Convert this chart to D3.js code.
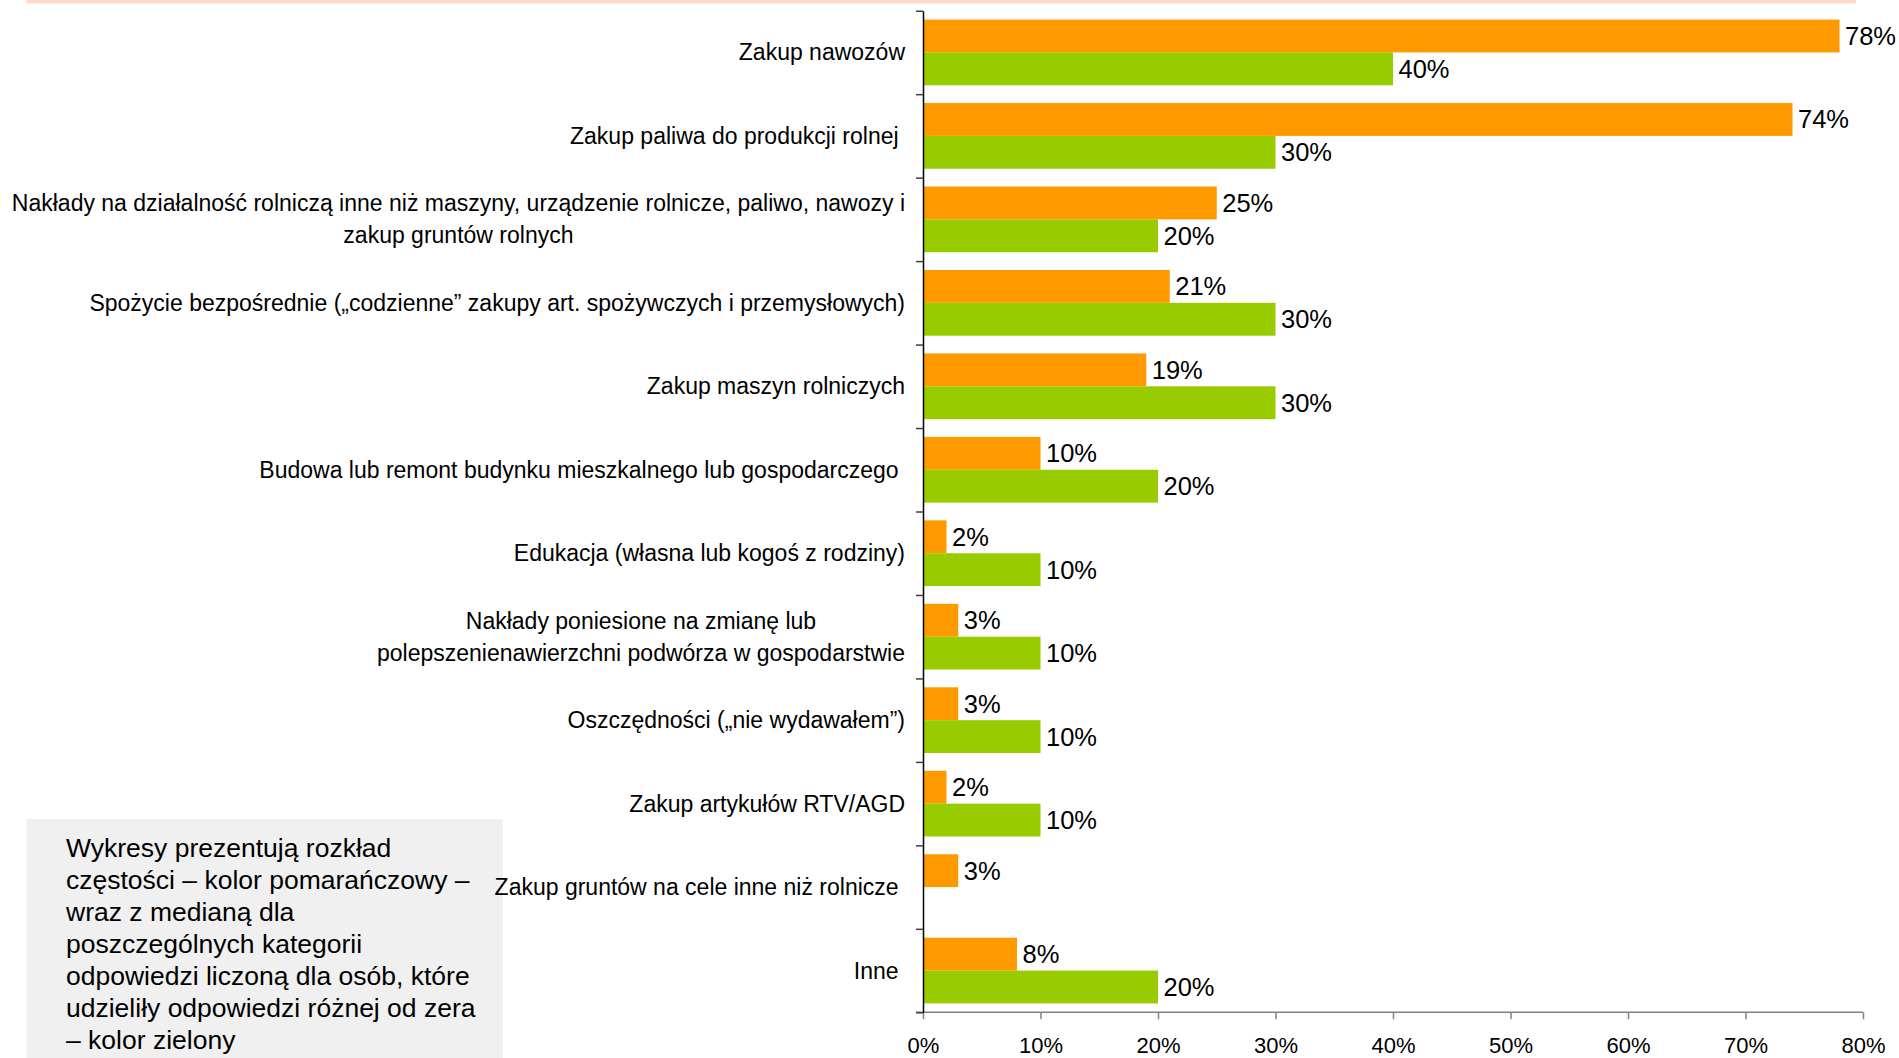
<!DOCTYPE html>
<html lang="pl">
<head>
<meta charset="utf-8">
<script src="https://cdn.jsdelivr.net/npm/d3@7"></script>
<style>
  html, body { margin: 0; padding: 0; background: #ffffff; }
  svg { display: block; font-family: "Liberation Sans", Arial, sans-serif; }
  text { white-space: pre; }
</style>
</head>
<body>
<script>
// Categories of spending (label lines separated by "\n")
const categories = [
  "Zakup nawozów",
  "Zakup paliwa do produkcji rolnej ",
  "Nakłady na działalność rolniczą inne niż maszyny, urządzenie rolnicze, paliwo, nawozy i\nzakup gruntów rolnych",
  "Spożycie bezpośrednie („codzienne” zakupy art. spożywczych i przemysłowych)",
  "Zakup maszyn rolniczych",
  "Budowa lub remont budynku mieszkalnego lub gospodarczego ",
  "Edukacja (własna lub kogoś z rodziny)",
  "Nakłady poniesione na zmianę lub\npolepszenienawierzchni podwórza w gospodarstwie",
  "Oszczędności („nie wydawałem”)",
  "Zakup artykułów RTV/AGD",
  "Zakup gruntów na cele inne niż rolnicze ",
  "Inne "
];

// Frequency of answers (orange), %
const frequency = [78, 74, 25, 21, 19, 10, 2, 3, 3, 2, 3, 8];

// Median for non-zero answers (green), %; null = no value
const median = [40, 30, 20, 30, 30, 20, 10, 10, 10, 10, null, 20];

// Horizontal axis ticks, %
const xTicks = [0, 10, 20, 30, 40, 50, 60, 70, 80];

// Explanatory note
const noteLines = [
  "Wykresy prezentują rozkład",
  "częstości – kolor pomarańczowy –",
  "wraz z medianą dla",
  "poszczególnych kategorii",
  "odpowiedzi liczoną dla osób, które",
  "udzieliły odpowiedzi różnej od zera",
  "– kolor zielony"
];

const W = 1899, H = 1058;
const COLORS = { freq: "#FF9900", med: "#99CC00" };

const svg = d3.select("body").append("svg")
  .attr("width", W).attr("height", H);

const plot = { left: 923, right: 1863, top: 10.7, bottom: 1012.3 };

const x = d3.scaleLinear().domain([0, 80]).range([plot.left, plot.right]);
const y = d3.scaleBand().domain(d3.range(categories.length)).range([plot.top, plot.bottom]);
const yEdges = d3.scaleLinear().domain([0, categories.length]).range([plot.top, plot.bottom]);
const inner = d3.scaleBand().domain(["freq", "med"])
  .range([0, y.bandwidth()]).paddingInner(0).paddingOuter(0.27);

// Thin header strip
svg.append("rect")
  .attr("x", 26.6).attr("y", 0).attr("width", 1856 - 26.6).attr("height", 3.5)
  .attr("fill", "#FFD9CC");

// Note box
const note = svg.append("g");
note.append("rect")
  .attr("x", 26.6).attr("y", 819).attr("width", 502.7 - 26.6).attr("height", H - 819)
  .attr("fill", "#F0F0F0");
note.selectAll("text").data(noteLines).join("text")
  .attr("x", 66)
  .attr("y", (d, i) => 847.5 + i * 32)
  .attr("dy", "0.35em")
  .attr("font-size", 26.5)
  .attr("fill", "#000")
  .text(d => d);

// Bars and value labels
const series = [
  { key: "freq", values: frequency },
  { key: "med", values: median }
];
series.forEach(s => {
  const data = s.values.map((v, i) => ({ i, v })).filter(d => d.v != null);
  svg.append("g").selectAll("rect").data(data).join("rect")
    .attr("x", x(0))
    .attr("y", d => y(d.i) + inner(s.key))
    .attr("width", d => x(d.v) - x(0))
    .attr("height", inner.bandwidth())
    .attr("fill", COLORS[s.key]);
  svg.append("g").selectAll("text").data(data).join("text")
    .attr("x", d => x(d.v) + 5.5)
    .attr("y", d => y(d.i) + inner(s.key) + inner.bandwidth() / 2)
    .attr("dy", "0.35em")
    .attr("font-size", 25.5)
    .attr("fill", "#000")
    .text(d => d.v + "%");
});

// Horizontal axis
const xAxis = svg.append("g")
  .attr("transform", `translate(0,${plot.bottom})`)
  .call(d3.axisBottom(x).tickValues(xTicks).tickFormat(d => d + "%")
    .tickSize(7).tickSizeOuter(0));
xAxis.select(".domain").attr("stroke", "#808080").attr("stroke-width", 1.5)
  .attr("d", `M${plot.left - 7},0H${plot.right}`);
xAxis.selectAll(".tick line").attr("stroke", "#808080").attr("stroke-width", 1.5);
xAxis.selectAll(".tick text")
  .attr("y", 1053 - plot.bottom).attr("dy", null)
  .attr("font-size", 22).attr("fill", "#000")
  .attr("font-family", "\"Liberation Sans\", Arial, sans-serif");

// Vertical axis with ticks at category boundaries
const yAxis = svg.append("g")
  .attr("transform", `translate(${plot.left},0)`)
  .call(d3.axisLeft(yEdges).tickValues(d3.range(categories.length + 1))
    .tickFormat("").tickSize(7).tickSizeOuter(0));
yAxis.select(".domain").attr("stroke", "#000").attr("stroke-width", 1.5);
yAxis.selectAll(".tick line").attr("stroke", "#404040").attr("stroke-width", 1.5);

// Category labels: block right-aligned to the axis, lines centred inside it
const labelRight = 905;
const labels = svg.append("g").attr("font-size", 23).attr("fill", "#000");
categories.forEach((c, i) => {
  const lines = c.split("\n");
  const g = labels.append("g");
  const texts = lines.map((ln, k) =>
    g.append("text")
      .attr("y", y(i) + y.bandwidth() / 2 + (k - (lines.length - 1) / 2) * 32)
      .attr("dy", "0.35em")
      .text(ln));
  const maxW = d3.max(texts, t => t.node().getComputedTextLength());
  texts.forEach(t => t.attr("x", labelRight - maxW / 2).attr("text-anchor", "middle"));
});
</script>
</body>
</html>
